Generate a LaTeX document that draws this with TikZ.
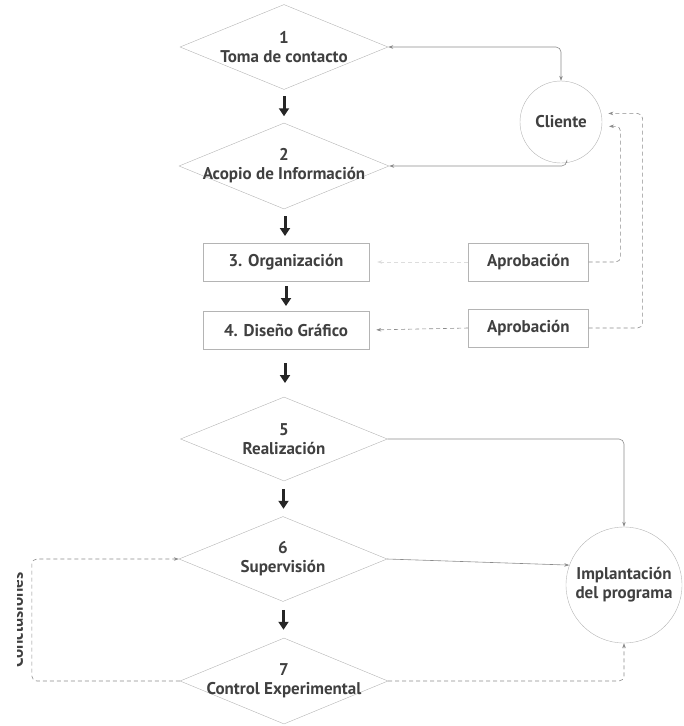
\documentclass[tikz,border=0pt]{standalone}
\usepackage{fontspec}
\setmainfont{PT Sans}
\usepackage{tikz}
\usetikzlibrary{positioning,shapes.geometric,arrows.meta,calc}

\definecolor{txtgray}{HTML}{404040}
\definecolor{linegray}{HTML}{8C8C8C}
\definecolor{edgegray}{HTML}{B4B4B4}

\begin{document}
\begin{tikzpicture}[
  x=1pt, y=-1pt,
  every node/.style={font=\fontsize{17}{19}\selectfont\bfseries, text=txtgray},
  dia/.style={draw=edgegray, diamond, shape aspect=2.45, minimum width=208pt, minimum height=85pt, inner sep=-12pt, align=center},
  box/.style={draw=edgegray, rectangle, minimum width=166pt, minimum height=38pt, align=center},
  okbox/.style={draw=edgegray, rectangle, minimum width=120pt, minimum height=38pt, align=center},
  circ/.style={draw=edgegray, circle, inner sep=-6pt, align=center},
  flow/.style={-{Triangle[length=8pt,width=10pt]}, line width=3pt, black!85},
  link/.style={-{Stealth[length=5pt,width=3.5pt]}, linegray, line width=0.6pt, rounded corners=5pt},
  dlink/.style={link, dashed, dash pattern=on 4pt off 3pt}
]
\useasboundingbox (0,0) rectangle (684,726);

% main column
\node[dia] (d1) at (284,47) {1\\Toma de contacto};
\node[dia, minimum width=210pt, minimum height=86pt] (d2) at (284,166) {2\\Acopio de Información};
\node[box] (org) at (286,262) {3. Organización};
\node[box] (dis) at (286,330) {4. Diseño Gráfico};
\node[dia, minimum width=207pt, minimum height=84pt] (d5) at (284,439) {5\\Realización};
\node[dia] (d6) at (283,559) {6\\Supervisión};
\node[dia, minimum height=86pt] (d7) at (284,681) {7\\Control Experimental};

% right side
\node[okbox, right=99pt of org] (apro1) {Aprobación};
\node[okbox, right=99pt of dis, yshift=2pt] (apro2) {Aprobación};
\node[circ, minimum size=82pt] (cliente) at (561,122) {Cliente};
\node[circ, minimum size=116pt] (impl) at (624,585) {Implantación\\del programa};

% flow arrows
\foreach \a/\b in {d1/d2, d2/org, org/dis, dis/d5, d5/d6, d6/d7}
  \draw[flow] ($(\a.south)!.5!(\b.north)+(0,-10)$) -- ++(0,20);

% client loop
\draw[link, {Stealth[length=5pt,width=3.5pt]}-{Stealth[length=5pt,width=3.5pt]}] (d1.east) -| (cliente.north);
\draw[link] (cliente.-82) |- (d2.east);
\draw[dlink] (apro1.east) -- ++(32,0) |- ([xshift=7pt]cliente.-6);
\draw[dlink] (apro2.east) -- ++(54,0) |- ([xshift=7pt]cliente.12);
\draw[dlink, shorten >=7pt] (apro2.west) -- (dis.east);
\draw[dlink, draw=linegray!30, shorten >=8pt] (apro1.west) -- (org.east);

% implementation
\draw[link] (d5.east) -| (impl.north);
\draw[link] (d6.east) -- (impl.160);
\draw[dlink] (d7.east) -| (impl.south);
\draw[dlink] (d7.west) -- ++(-148,0) |- (d6.west);

\begin{scope}
  \clip (17,540) rectangle (60,700);
  \node[rotate=90, anchor=base] (concl) at (23,620) {Conclusiones};
\end{scope}
\end{tikzpicture}
\end{document}
